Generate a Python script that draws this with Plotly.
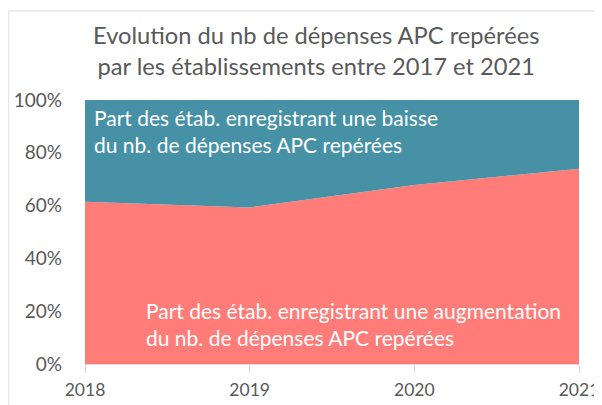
import plotly.graph_objects as go

years = [2018, 2019, 2020, 2021]
part_augmentation = [0.615, 0.593, 0.678, 0.740]
part_baisse = [0.385, 0.407, 0.322, 0.260]

title_text = "Evolution du nb de dépenses APC repérées<br>par les établissements entre 2017 et 2021"
label_baisse = "Part des étab. enregistrant une baisse<br>du nb. de dépenses APC repérées"
label_augm = "Part des étab. enregistrant une augmentation<br>du nb. de dépenses APC repérées"

RED = "#FF7C78"
TEAL = "#4791A7"
GREY = "#595959"
FONT = "Lato"

fig = go.Figure()
fig.add_trace(go.Scatter(x=years, y=part_augmentation, stackgroup="s", mode="none",
                         fillcolor=RED, line=dict(width=0), name="augmentation"))
fig.add_trace(go.Scatter(x=years, y=part_baisse, stackgroup="s", mode="none",
                         fillcolor=TEAL, line=dict(width=0), name="baisse"))

OFF = 8  # page body margin
W, H = 602 - OFF, 405 - OFF
ml, mr, mt, mb = 85 - OFF, 23, 100 - OFF, 41
pw, ph = W - ml - mr, H - mt - mb

def px_x(x):
    return (x - OFF - ml) / pw

def px_y(y):
    return (H - mb - (y - OFF)) / ph

fig.update_layout(
    width=W, height=H,
    margin=dict(l=ml, r=mr, t=mt, b=mb, autoexpand=False),
    paper_bgcolor="white", plot_bgcolor="white",
    showlegend=False,
    font=dict(family=FONT, color=GREY),
    xaxis=dict(range=[2018, 2021], tickmode="array", tickvals=years,
               ticktext=[str(y) for y in years],
               showgrid=False, zeroline=False, showline=True, linecolor="#D9D9D9",
               ticks="outside", ticklen=8, tickcolor="#D9D9D9",
               ticklabelstandoff=2,
               automargin=False, ticklabeloverflow="allow",
               tickfont=dict(family=FONT, size=17.5, color=GREY)),
    yaxis=dict(range=[0, 1], tickformat=".0%", tickvals=[0, 0.2, 0.4, 0.6, 0.8, 1.0],
               showgrid=False, zeroline=False, showline=False,
               ticks="", ticklabelstandoff=22, automargin=False,
               ticklabeloverflow="allow",
               tickfont=dict(family=FONT, size=19, color=GREY)),
    shapes=[
        dict(type="line", xref="paper", yref="paper", x0=px_x(OFF), x1=px_x(602),
             y0=px_y(11), y1=px_y(11), line=dict(color="#E6E6E6", width=1.5)),
        dict(type="line", xref="paper", yref="paper", x0=px_x(OFF + 0.5), x1=px_x(OFF + 0.5),
             y0=px_y(11), y1=px_y(405), line=dict(color="#E6E6E6", width=1.5)),
    ],
    annotations=[
        dict(text=title_text, xref="paper", yref="paper", x=px_x(316), y=px_y(19),
             xanchor="center", yanchor="top", align="center", showarrow=False,
             font=dict(family=FONT, size=23.7, color=GREY)),
        dict(text=label_baisse, xref="paper", yref="paper", x=px_x(92), y=px_y(103),
             xanchor="left", yanchor="top", align="left", showarrow=False,
             font=dict(family=FONT, size=21, color="white")),
        dict(text=label_augm, xref="paper", yref="paper", x=px_x(144), y=px_y(296),
             xanchor="left", yanchor="top", align="left", showarrow=False,
             font=dict(family=FONT, size=21, color="white")),
    ],
)

fig.write_html("out.html")
